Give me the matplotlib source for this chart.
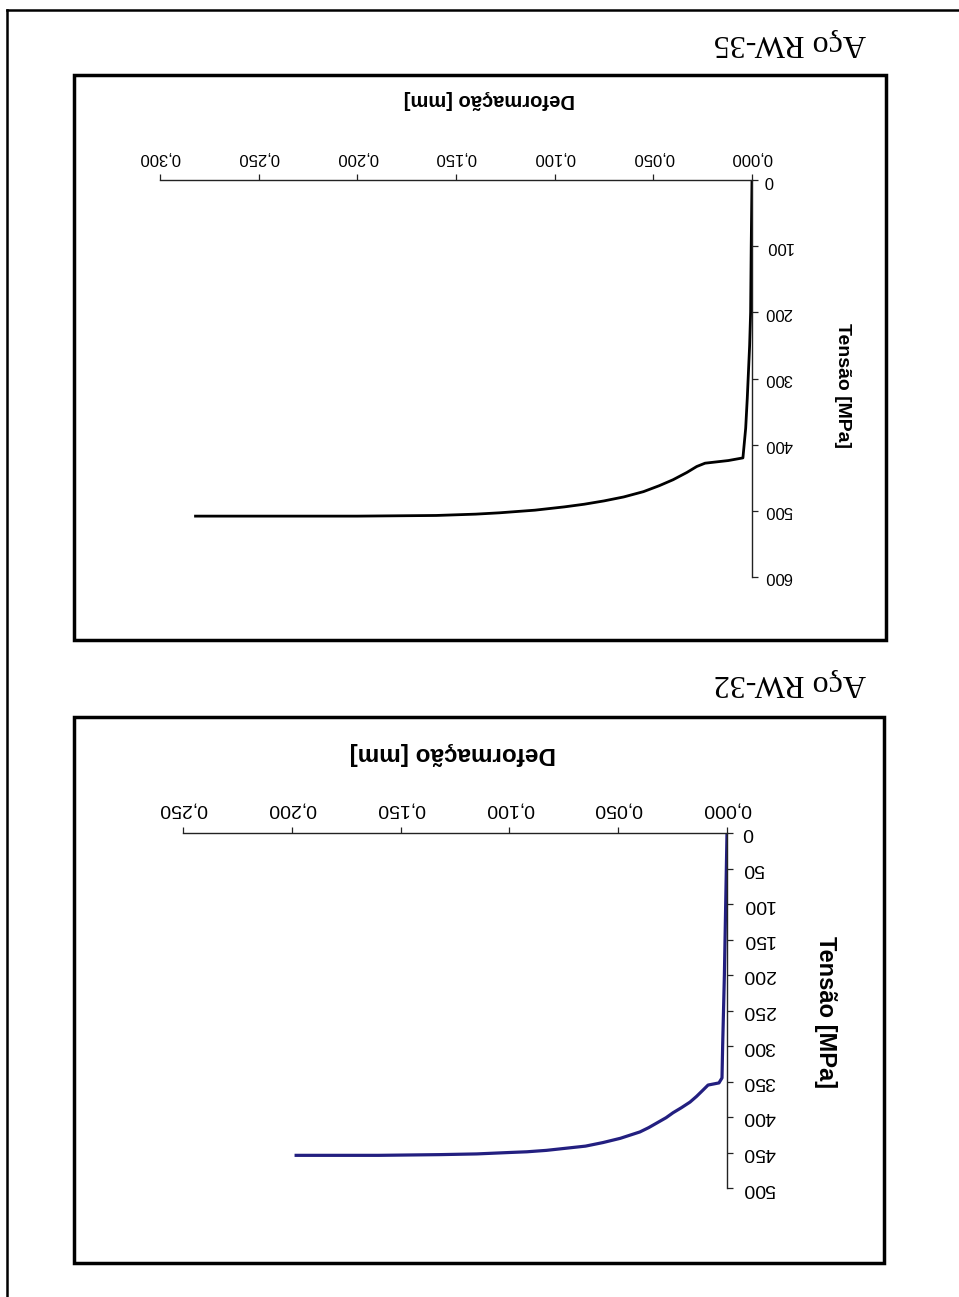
import matplotlib

matplotlib.use("Agg")
import matplotlib.pyplot as plt
import numpy as num
from matplotlib.patches import Rectangle

# scanned page is upside down, so everything is drawn rotated by 180 degrees

# Aco RW-35 (upper chart on the page)
deform35 = [0.0, 0.0004, 0.0007, 0.0012, 0.0018, 0.0024, 0.0032, 0.0046, 0.012, 0.0238, 0.028,
            0.033, 0.040, 0.047, 0.055, 0.065, 0.075, 0.085, 0.095, 0.110, 0.128, 0.140, 0.160,
            0.200, 0.282]
tensao35 = [0, 100, 200, 250, 290, 330, 375, 420, 424, 428, 433,
            442, 453, 462, 471, 479, 485, 490, 494, 499, 503, 505, 507,
            508, 508]
xTicks35 = [0.0, 0.05, 0.10, 0.15, 0.20, 0.25, 0.30]
yTicks35 = [0, 100, 200, 300, 400, 500, 600]

# Aco RW-32 (lower chart on the page)
deform32 = [0.0, 0.0003, 0.0012, 0.002, 0.0023, 0.0037, 0.0087, 0.011, 0.014, 0.017, 0.021,
            0.0248, 0.028, 0.032, 0.036, 0.040, 0.045, 0.049, 0.057, 0.065, 0.074, 0.083,
            0.092, 0.100, 0.115, 0.132, 0.160, 0.198]
tensao32 = [0, 50, 200, 300, 345, 352, 355, 362, 371, 379, 387,
            394, 401, 408, 415, 421, 426, 430, 436, 441, 444, 447,
            449, 450, 452, 453, 454, 454]
xTicks32 = [0.0, 0.05, 0.10, 0.15, 0.20, 0.25]
yTicks32 = [0, 50, 100, 150, 200, 250, 300, 350, 400, 450, 500]

W = 959.0
H = 1297.0

plt.rcParams["font.family"] = ["Liberation Sans", "DejaVu Sans"]

fig = plt.figure(figsize=(W / 100, H / 100), dpi=100)
fig.patch.set_facecolor("white")


def box(x0, y0, x1, y1):
    # pixel box (top-left origin) -> figure fraction rect
    return [x0 / W, 1 - y1 / H, (x1 - x0) / W, (y1 - y0) / H]


def figText(x, y, s, **kw):
    fig.text(x / W, 1 - y / H, s, ha="center", va="center", rotation=kw.pop("rotation", 180), **kw)


def frame(x0, y0, x1, y1, lw=2.5):
    fig.patches.append(Rectangle((x0 / W, 1 - y1 / H), (x1 - x0) / W, (y1 - y0) / H,
                                 transform=fig.transFigure, fill=False, edgecolor="black", linewidth=lw))


def plotChart(rect, deform, tensao, xTicks, yTicks, color, lw, fsTick, xPad, yPad):
    axes = fig.add_axes(rect)
    axes.patch.set_alpha(0)
    axes.plot(deform, tensao, "-", color=color, linewidth=lw, solid_joinstyle="round")
    axes.set_xlim(xTicks[-1], 0)
    axes.set_ylim(yTicks[-1], 0)
    for s in ["bottom", "left"]:
        axes.spines[s].set_visible(False)
    for s in ["top", "right"]:
        axes.spines[s].set_linewidth(1.0)
        axes.spines[s].set_color("#222222")
    axes.xaxis.tick_top()
    axes.yaxis.tick_right()
    axes.set_xticks(xTicks)
    axes.set_xticklabels([("%.3f" % v).replace(".", ",") for v in xTicks])
    axes.set_yticks(yTicks)
    axes.set_yticklabels(["%d" % v for v in yTicks])
    axes.tick_params(axis="both", direction="out", length=4, width=0.9, color="#222222",
                     labelsize=fsTick)
    axes.tick_params(axis="x", pad=xPad)
    axes.tick_params(axis="y", pad=yPad)
    for t in axes.get_xticklabels():
        t.set_rotation(180)
    for t in axes.get_yticklabels():
        t.set_rotation(180)
        t.set_va("center")
    return axes


# page border (left and top lines of the scan)
fig.add_artist(plt.Line2D([7 / W, 7 / W], [0, 1 - 10 / H], transform=fig.transFigure,
                          color="black", linewidth=1.8))
fig.add_artist(plt.Line2D([7 / W, 1], [1 - 10 / H, 1 - 10 / H], transform=fig.transFigure,
                          color="black", linewidth=1.8))

# upper chart
frame(74, 75, 886, 640)
plotChart(box(160, 180, 752, 577), deform35, tensao35, xTicks35, yTicks35,
          "black", 2.0, 12, 7, 5)
figText(489, 100, "Deformação [mm]", fontsize=14.5, fontweight="bold")
figText(843, 386, "Tensão [MPa]", fontsize=14, fontweight="bold", rotation=270)
figText(790, 43, "Aço RW-35", fontsize=23, family=["Liberation Serif", "DejaVu Serif"])

# lower chart
frame(74, 717, 884, 1263)
plotChart(box(183, 833, 727, 1188), deform32, tensao32, xTicks32, yTicks32,
          "#231f80", 2.3, 14, 7, 7)
figText(453, 753, "Deformação [mm]", fontsize=17.5, fontweight="bold")
figText(825, 1012, "Tensão [MPa]", fontsize=17, fontweight="bold", rotation=270)
figText(790, 683, "Aço RW-32", fontsize=23, family=["Liberation Serif", "DejaVu Serif"])

plt.savefig("out.png", dpi=100)
plt.close()
